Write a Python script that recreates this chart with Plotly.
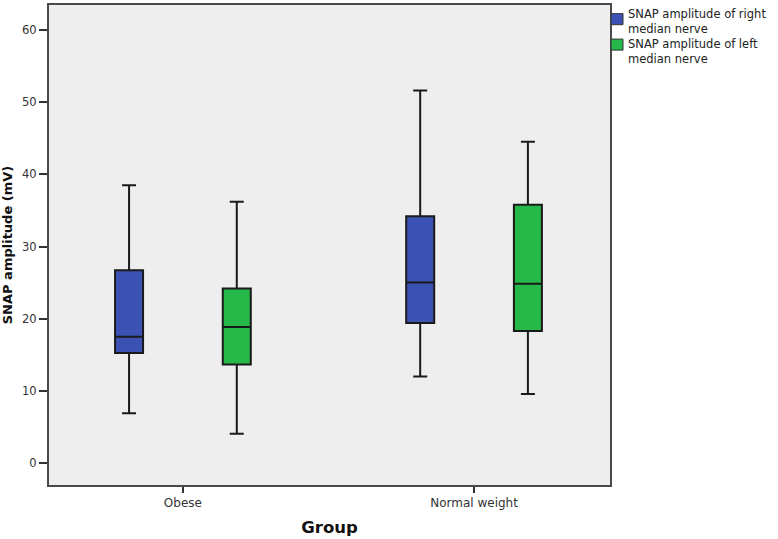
import plotly.graph_objects as go

# ---- data ----
groups = ["Obese", "Normal weight"]
series_names = ["SNAP amplitude of right median nerve",
                "SNAP amplitude of left median nerve"]
legend_texts = ["SNAP amplitude of right<br>median nerve",
                "SNAP amplitude of left<br>median nerve"]

right_lower = [6.9, 12.0]
right_q1 = [15.25, 19.4]
right_median = [17.5, 25.0]
right_q3 = [26.7, 34.2]
right_upper = [38.5, 51.6]

left_lower = [4.05, 9.55]
left_q1 = [13.65, 18.3]
left_median = [18.85, 24.85]
left_q3 = [24.2, 35.8]
left_upper = [36.2, 44.5]

y_ticks = [0, 10, 20, 30, 40, 50, 60]

colors = ["#3B52B4", "#27B84A"]
FONT = "DejaVu Sans"

fig = go.Figure()
stats = [
    (right_lower, right_q1, right_median, right_q3, right_upper),
    (left_lower, left_q1, left_median, left_q3, left_upper),
]
for name, col, (lo, q1, med, q3, up) in zip(series_names, colors, stats):
    fig.add_trace(go.Box(
        name=name,
        x=groups,
        lowerfence=lo, q1=q1, median=med, q3=q3, upperfence=up,
        fillcolor=col,
        line=dict(color="#1a1a1a", width=2),
        whiskerwidth=0.5,
        boxpoints=False,
        showlegend=False,
        hoverinfo="skip",
    ))

# custom legend (key squares + wrapped text), placed right of the plot
shapes = []
annotations = []
key_y = [(0.982, 0.959), (0.929, 0.906)]
text_top = [(485 - 2.5) / 482, (485 - 33.5) / 482]
for i, col in enumerate(colors):
    y0, y1 = key_y[i]
    shapes.append(dict(type="rect", xref="paper", yref="paper",
                       x0=1.0018, x1=1.0232, y0=y1, y1=y0,
                       fillcolor=col, line=dict(color="#333333", width=1)))
    annotations.append(dict(xref="paper", yref="paper", x=1.0285, y=text_top[i],
                            xanchor="left", yanchor="top", align="left",
                            text=legend_texts[i], showarrow=False,
                            font=dict(family=FONT, size=11.5, color="#222222")))

fig.update_layout(
    width=778, height=539,
    margin=dict(l=49, r=168, t=3, b=54),
    paper_bgcolor="white",
    plot_bgcolor="#EEEEEE",
    boxmode="group",
    boxgap=0.26,
    boxgroupgap=0.74,
    font=dict(family=FONT, color="#333333"),
    shapes=shapes,
    annotations=annotations,
    xaxis=dict(
        type="category",
        range=[-0.46, 1.467],
        showgrid=False, zeroline=False,
        showline=True, linecolor="#4a4a4a", linewidth=2, mirror=True,
        ticks="outside", ticklen=6, tickcolor="#333333", tickwidth=1.5,
        tickfont=dict(family=FONT, size=12, color="#333333"),
        title=dict(text="Group", standoff=12,
                   font=dict(family=FONT, size=16.5, color="#111111", weight="bold")),
    ),
    yaxis=dict(
        range=[-3.04, 63.46],
        tickvals=y_ticks,
        showgrid=False, zeroline=False,
        showline=True, linecolor="#4a4a4a", linewidth=2, mirror=True,
        ticks="outside", ticklen=8, tickcolor="#333333", tickwidth=1.5,
        tickfont=dict(family=FONT, size=11.5, color="#333333"),
        title=dict(text="SNAP amplitude (mV)", standoff=8,
                   font=dict(family=FONT, size=13, color="#111111", weight="bold")),
    ),
)

fig.write_html("out.html",
               config={"displayModeBar": False},
               post_script="document.body.style.margin='0';document.body.style.padding='0';")
